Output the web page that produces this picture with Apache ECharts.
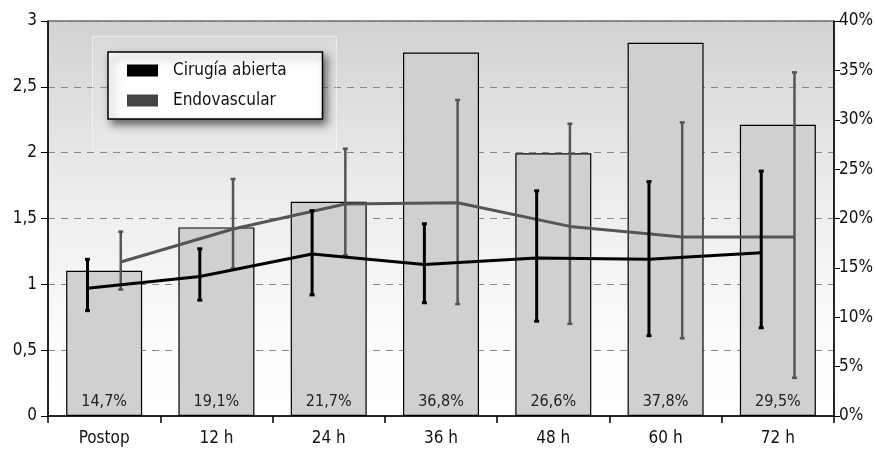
<!DOCTYPE html>
<html>
<head>
<meta charset="utf-8">
<script src="https://cdn.jsdelivr.net/npm/echarts@6/dist/echarts.min.js"></script>
<style>
  html, body { margin: 0; padding: 0; background: #fff; }
  #chart { width: 876px; height: 451px; }
</style>
</head>
<body>
<div id="chart"></div>
<script>
// time points
const categories = ['Postop', '12 h', '24 h', '36 h', '48 h', '60 h', '72 h'];
// bars, right axis (%)
const pctValues = [14.7, 19.1, 21.7, 36.8, 26.6, 37.8, 29.5];
// Cirugía abierta: mean and error bar ends (left axis)
const openMean = [0.97, 1.06, 1.23, 1.15, 1.20, 1.19, 1.24];
const openLow = [0.80, 0.88, 0.92, 0.86, 0.72, 0.61, 0.67];
const openHigh = [1.19, 1.27, 1.56, 1.46, 1.71, 1.78, 1.86];
// Endovascular
const endoMean = [1.17, 1.42, 1.61, 1.62, 1.44, 1.36, 1.36];
const endoLow = [0.96, 1.12, 1.22, 0.85, 0.70, 0.59, 0.29];
const endoHigh = [1.40, 1.80, 2.03, 2.40, 2.22, 2.23, 2.61];

const FONT = '"Liberation Sans Narrow", "DejaVu Sans Condensed", Roboto, sans-serif';
const SHIFT = 0.148; // horizontal offset of each group from the category centre

function comma(v) {
    return String(v).replace('.', ',');
}

function points(mean, dx) {
    return mean.map((v, i) => [i + 0.5 + dx, v]);
}

function errData(low, high, dx) {
    return low.map((v, i) => [i + 0.5 + dx, v, high[i]]);
}

function errRender(color, width) {
    return function (params, api) {
        let lo = api.coord([api.value(0), api.value(1)]);
        let hi = api.coord([api.value(0), api.value(2)]);
        let cap = 2.5;
        let style = { stroke: color, lineWidth: width };
        return {
            type: 'group',
            children: [
                { type: 'line', shape: { x1: lo[0], y1: lo[1], x2: hi[0], y2: hi[1] }, style: style },
                { type: 'line', shape: { x1: hi[0] - cap, y1: hi[1], x2: hi[0] + cap, y2: hi[1] }, style: style },
                { type: 'line', shape: { x1: lo[0] - cap, y1: lo[1], x2: lo[0] + cap, y2: lo[1] }, style: style }
            ]
        };
    };
}

let chart = echarts.init(document.getElementById('chart'));

let option = {
    animation: false,
    textStyle: { fontFamily: FONT },
    grid: {
        left: 48, right: 40, top: 21, bottom: 35,
        show: true,
        borderColor: '#222',
        borderWidth: 1,
        backgroundColor: {
            type: 'linear', x: 0, y: 0, x2: 0, y2: 1,
            colorStops: [
                { offset: 0, color: '#d2d2d2' },
                { offset: 0.45, color: '#ededed' },
                { offset: 0.85, color: '#fdfdfd' },
                { offset: 1, color: '#ffffff' }
            ]
        }
    },
    graphic: [{
        type: 'rect',
        left: 92, top: 36,
        shape: { width: 244, height: 113 },
        style: { fill: 'rgba(255,255,255,0.12)', stroke: 'rgba(255,255,255,0.5)', lineWidth: 1 },
        z: 1
    }],
    legend: {
        orient: 'vertical',
        left: 108, top: 52,
        padding: [10, 36, 10, 19],
        itemWidth: 31,
        itemHeight: 12,
        itemGap: 13,
        backgroundColor: '#fff',
        borderColor: '#000',
        borderWidth: 1.5,
        shadowBlur: 8,
        shadowOffsetX: 4,
        shadowOffsetY: 5,
        shadowColor: 'rgba(0,0,0,0.55)',
        textStyle: { fontFamily: FONT, fontSize: 17, color: '#111', padding: [0, 0, 0, 10] },
        data: [
            { name: 'Cirugía abierta', icon: 'rect', itemStyle: { color: '#000' } },
            { name: 'Endovascular', icon: 'rect', itemStyle: { color: '#444' } }
        ]
    },
    xAxis: [{
        type: 'category',
        data: categories,
        position: 'bottom',
        axisLine: { lineStyle: { color: '#000', width: 1.5 } },
        axisTick: { show: true, inside: false, length: 7, lineStyle: { color: '#000', width: 1.5 } },
        axisLabel: { color: '#111', fontSize: 17, margin: 14, fontFamily: FONT },
        splitLine: { show: false }
    }, {
        type: 'value',
        min: 0, max: 7,
        position: 'bottom',
        show: false
    }],
    yAxis: [{
        type: 'value',
        min: 0, max: 3, interval: 0.5,
        position: 'left',
        axisLine: { show: true, lineStyle: { color: '#000', width: 1.5 } },
        axisTick: { show: true, length: 7, lineStyle: { color: '#000' } },
        axisLabel: { color: '#111', fontSize: 17, margin: 11, fontFamily: FONT, formatter: comma },
        splitLine: { show: true, lineStyle: { color: '#888', type: [7, 6], width: 1 } }
    }, {
        type: 'value',
        min: 0, max: 40, interval: 5,
        position: 'right',
        axisLine: { show: true, lineStyle: { color: '#000', width: 1.5 } },
        axisTick: { show: true, length: 6, lineStyle: { color: '#000' } },
        axisLabel: { color: '#111', fontSize: 17, margin: 5, fontFamily: FONT, formatter: '{value}%' },
        splitLine: { show: false }
    }],
    series: [{
        name: 'pct',
        type: 'bar',
        xAxisIndex: 0,
        yAxisIndex: 1,
        data: pctValues,
        barWidth: 76,
        itemStyle: { color: '#d0d0d0', borderColor: '#000', borderWidth: 1.2 },
        label: {
            show: true,
            position: 'insideBottom',
            distance: 6,
            fontSize: 16,
            color: '#222',
            fontFamily: FONT,
            formatter: p => comma(p.value) + '%'
        },
        z: 2
    }, {
        name: 'Cirugía abierta',
        type: 'line',
        xAxisIndex: 1,
        yAxisIndex: 0,
        data: points(openMean, -SHIFT),
        symbol: 'none',
        lineStyle: { color: '#000', width: 3 },
        itemStyle: { color: '#000' },
        z: 4
    }, {
        name: 'Endovascular',
        type: 'line',
        xAxisIndex: 1,
        yAxisIndex: 0,
        data: points(endoMean, SHIFT),
        symbol: 'none',
        lineStyle: { color: '#555', width: 3 },
        itemStyle: { color: '#444' },
        z: 3
    }, {
        name: 'errOpen',
        type: 'custom',
        xAxisIndex: 1,
        yAxisIndex: 0,
        data: errData(openLow, openHigh, -SHIFT),
        renderItem: errRender('#000', 3),
        z: 5
    }, {
        name: 'errEndo',
        type: 'custom',
        xAxisIndex: 1,
        yAxisIndex: 0,
        data: errData(endoLow, endoHigh, SHIFT),
        renderItem: errRender('#555', 2.5),
        z: 4
    }]
};

chart.setOption(option);
</script>
</body>
</html>
